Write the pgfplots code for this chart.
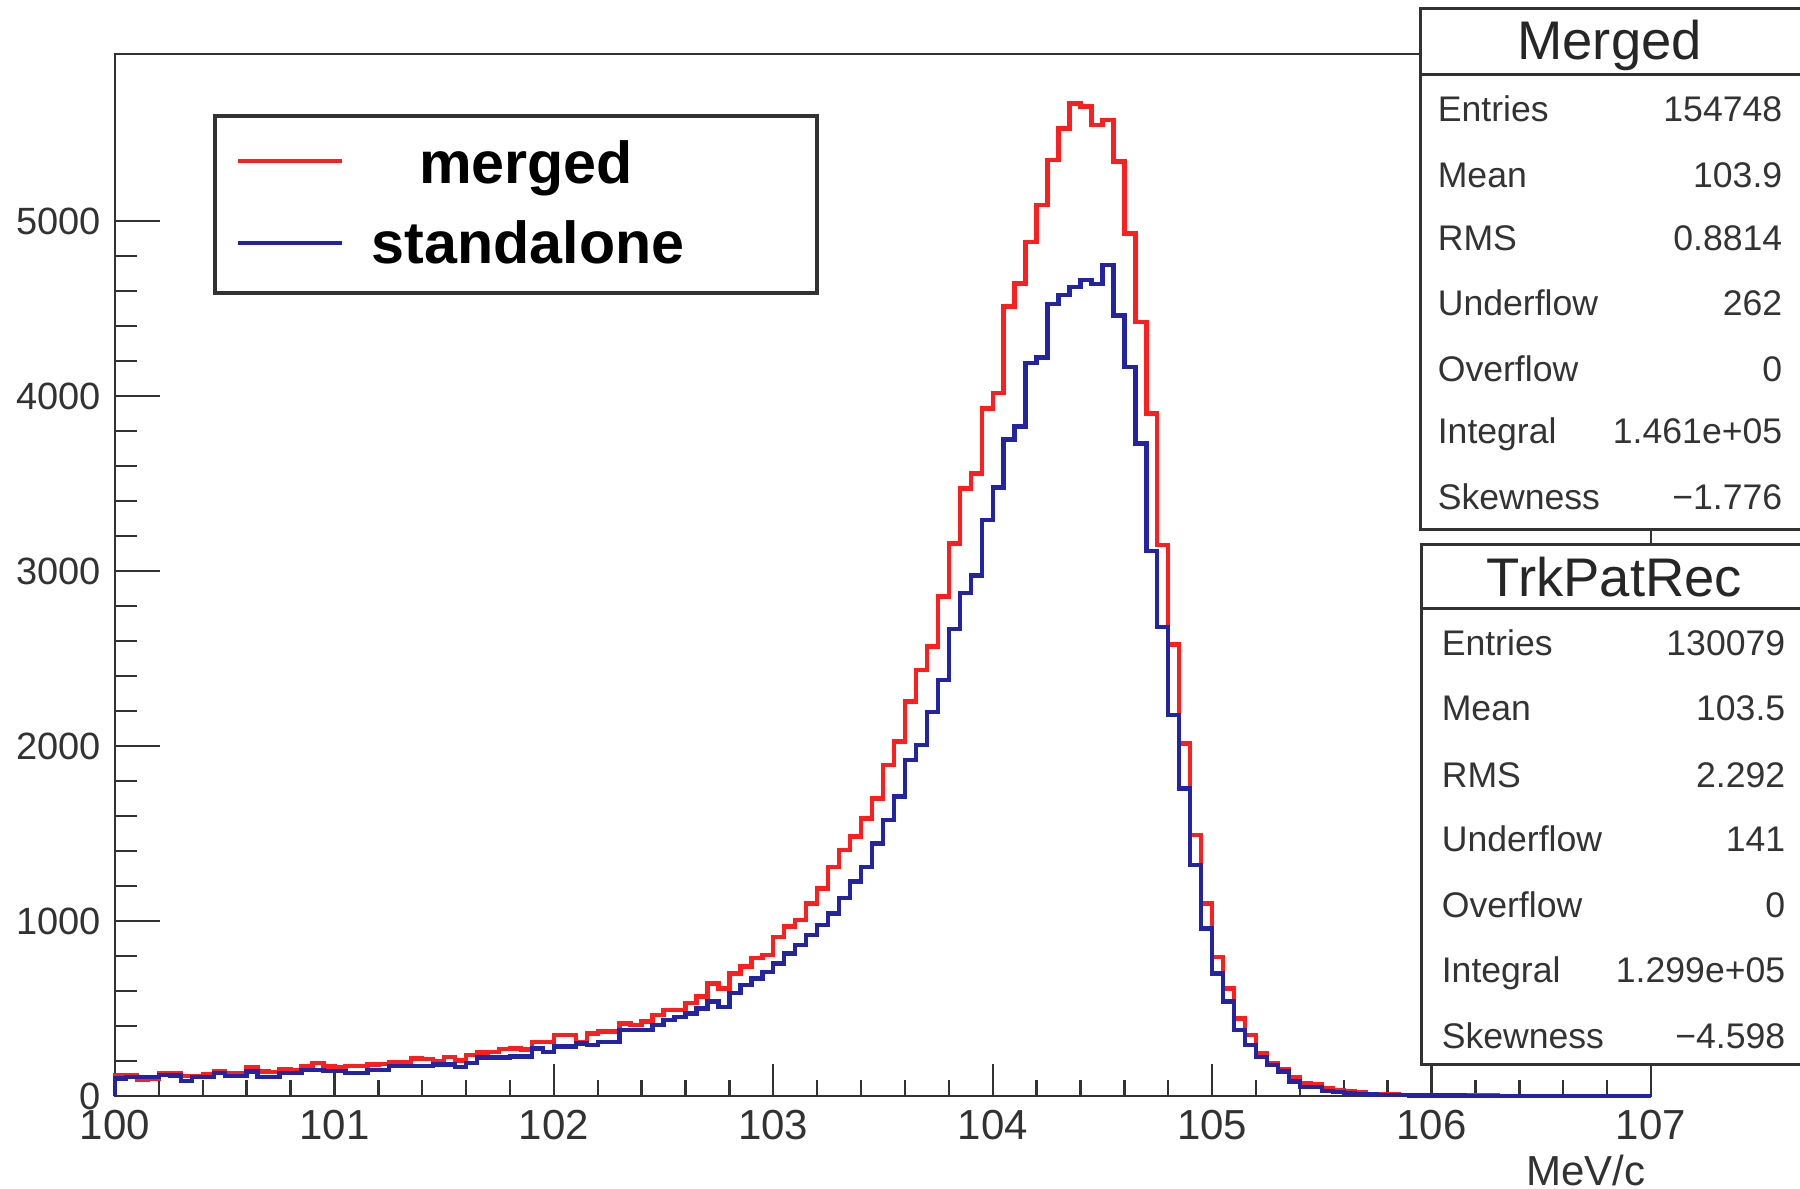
\documentclass[border=0pt]{standalone}
\usepackage{pgfplots}
\pgfplotsset{compat=1.18}
\usepackage{pgfplotstable}
\usepackage{fontspec}
\setmainfont{Liberation Sans}
\definecolor{hred}{RGB}{255,30,30}
\definecolor{hblue}{RGB}{35,35,165}
\definecolor{frame}{RGB}{50,50,50}

\pgfplotstableread{
x m s
100.00 0 0
100.00 120 100
100.05 120 109
100.10 95 109
100.15 98 109
100.20 133 120
100.25 130 118
100.30 114 86
100.35 112 110
100.40 124 110
100.45 139 133
100.50 130 114
100.55 128 114
100.60 166 139
100.65 139 109
100.70 137 109
100.75 152 133
100.80 150 133
100.85 171 147
100.90 190 147
100.95 168 143
101.00 166 143
101.05 171 130
101.10 173 130
101.15 181 147
101.20 183 147
101.25 196 171
101.30 194 171
101.35 215 171
101.40 213 171
101.45 200 181
101.50 223 181
101.55 204 166
101.60 234 190
101.65 248 219
101.70 250 219
101.75 267 219
101.80 272 225
101.85 265 225
101.90 310 272
101.95 310 253
102.00 348 282
102.05 348 282
102.10 310 301
102.15 358 291
102.20 368 310
102.25 368 310
102.30 415 377
102.35 406 377
102.40 425 377
102.45 463 406
102.50 491 434
102.55 491 453
102.60 530 472
102.65 568 501
102.70 644 539
102.75 615 510
102.80 701 587
102.85 739 634
102.90 787 672
102.95 806 710
103.00 910 758
103.05 968 815
103.10 1006 863
103.15 1101 920
103.20 1187 977
103.25 1310 1044
103.30 1406 1130
103.35 1482 1225
103.40 1587 1310
103.45 1701 1444
103.50 1892 1577
103.55 2025 1711
103.60 2254 1920
103.65 2435 2006
103.70 2568 2196
103.75 2854 2377
103.80 3158 2668
103.85 3473 2876
103.90 3558 2974
103.95 3930 3291
104.00 4016 3477
104.05 4511 3751
104.10 4644 3827
104.15 4882 4188
104.20 5092 4220
104.25 5349 4527
104.30 5530 4578
104.35 5673 4625
104.40 5654 4663
104.45 5549 4641
104.50 5578 4749
104.55 5340 4461
104.60 4930 4166
104.65 4425 3728
104.70 3901 3116
104.75 3149 2680
104.80 2580 2177
104.85 2015 1758
104.90 1492 1320
104.95 1101 958
105.00 796 701
105.05 615 539
105.10 444 377
105.15 349 291
105.20 244 222
105.25 187 177
105.30 155 139
105.35 105 82
105.40 72 52
105.45 68 50
105.50 45 30
105.55 35 24
105.60 26 17
105.65 19 12
105.70 13 9
105.75 10 6
105.80 8 5
105.85 6 4
105.90 5 3
105.95 4 3
106.00 4 2
106.05 3 2
106.10 3 2
106.15 2 1
106.20 2 1
106.25 2 1
106.30 1 1
106.35 1 1
106.40 1 0
106.45 1 0
106.50 1 0
106.55 0 0
106.60 1 0
106.65 0 0
106.70 0 0
106.75 0 0
106.80 0 0
106.85 0 0
106.90 0 0
106.95 0 0
107.00 0 0
}\histdata

\begin{document}
\begin{tikzpicture}
\useasboundingbox (0,0) rectangle (450pt,297.25pt);
\begin{axis}[
  at={(28.75pt,23.25pt)}, anchor=south west,
  scale only axis, width=384pt, height=260.5pt,
  xmin=100, xmax=107, ymin=0, ymax=5955,
  xtick={100,101,...,107}, ytick={0,1000,...,5000},
  minor x tick num=4, minor y tick num=4,
  tick pos=left, tick align=inside,
  axis line style={draw=frame, line width=0.7pt},
  every tick/.append style={draw=frame, line width=0.6pt},
  every x tick/.append style={/pgfplots/major tick length=8pt, /pgfplots/minor tick length=4pt},
  every y tick/.append style={/pgfplots/major tick length=11.25pt, /pgfplots/minor tick length=5.5pt},
  /pgf/number format/assume math mode=true,
  /pgf/number format/1000 sep={},
  xticklabel style={font=\fontsize{10.5}{12}\selectfont, text=frame},
  yticklabel style={font=\fontsize{9.5}{11}\selectfont, text=frame},
  xlabel={MeV/c},
  xlabel style={at={(rel axis cs:1,0)}, anchor=base east, inner sep=0pt,
    yshift=-22.5pt, xshift=-1.25pt, font=\fontsize{10.5}{12}\selectfont, text=frame},
  clip=false,
]
\addplot[const plot, hred, line width=1.1pt, mark=none] table[x=x, y=m] {\histdata};
\addplot[const plot, hblue, line width=1.1pt, mark=none] table[x=x, y=s] {\histdata};
\end{axis}

% legend
\draw[frame, line width=0.8pt, fill=white] (53.75pt,224pt) rectangle (204.25pt,268.25pt);
\draw[hred, line width=1pt] (59.5pt,257pt) -- (85.5pt,257pt);
\draw[hblue, line width=1pt] (59.5pt,236.5pt) -- (85.5pt,236.5pt);
\node[anchor=base, inner sep=0pt, font=\fontsize{14.8}{17}\selectfont\bfseries] at (131.5pt,251.3pt) {merged};
\node[anchor=base, inner sep=0pt, font=\fontsize{14.8}{17}\selectfont\bfseries] at (132pt,231.25pt) {standalone};

% Merged stat box
\draw[frame, line width=0.75pt, fill=white] (355pt,164.75pt) rectangle (470pt,295pt);
\draw[frame, line width=0.75pt] (355pt,278.5pt) -- (470pt,278.5pt);
\node[anchor=base, inner sep=0pt, font=\fontsize{13.6}{15}\selectfont, text=black!85] at (402.4pt,282.4pt) {Merged};
\begin{scope}[every node/.style={inner sep=0pt, font=\fontsize{8.9}{10}\selectfont, text=black!80}]
\node[anchor=base west] at (359.25pt,266.8pt) {Entries};
\node[anchor=base east] at (445.75pt,266.8pt) {154748};
\node[anchor=base west] at (359.25pt,250.4pt) {Mean};
\node[anchor=base east] at (445.75pt,250.4pt) {103.9};
\node[anchor=base west] at (359.25pt,234.55pt) {RMS};
\node[anchor=base east] at (445.75pt,234.55pt) {0.8814};
\node[anchor=base west] at (359.25pt,218.3pt) {Underflow};
\node[anchor=base east] at (445.75pt,218.3pt) {262};
\node[anchor=base west] at (359.25pt,201.9pt) {Overflow};
\node[anchor=base east] at (445.75pt,201.9pt) {0};
\node[anchor=base west] at (359.25pt,186.4pt) {Integral};
\node[anchor=base east] at (445.75pt,186.4pt) {1.461e+05};
\node[anchor=base west] at (359.25pt,169.8pt) {Skewness};
\node[anchor=base east] at (445.75pt,169.8pt) {−1.776};
\end{scope}

% TrkPatRec stat box
\draw[frame, line width=0.75pt, fill=white] (355.25pt,31pt) rectangle (470pt,161pt);
\draw[frame, line width=0.75pt] (355.25pt,145.1pt) -- (470pt,145.1pt);
\node[anchor=base, inner sep=0pt, font=\fontsize{13.6}{15}\selectfont, text=black!85] at (403.6pt,148.05pt) {TrkPatRec};
\begin{scope}[every node/.style={inner sep=0pt, font=\fontsize{8.9}{10}\selectfont, text=black!80}]
\node[anchor=base west] at (360.25pt,133.3pt) {Entries};
\node[anchor=base east] at (446.5pt,133.3pt) {130079};
\node[anchor=base west] at (360.25pt,117.05pt) {Mean};
\node[anchor=base east] at (446.5pt,117.05pt) {103.5};
\node[anchor=base west] at (360.25pt,100.3pt) {RMS};
\node[anchor=base east] at (446.5pt,100.3pt) {2.292};
\node[anchor=base west] at (360.25pt,84.3pt) {Underflow};
\node[anchor=base east] at (446.5pt,84.3pt) {141};
\node[anchor=base west] at (360.25pt,67.9pt) {Overflow};
\node[anchor=base east] at (446.5pt,67.9pt) {0};
\node[anchor=base west] at (360.25pt,51.55pt) {Integral};
\node[anchor=base east] at (446.5pt,51.55pt) {1.299e+05};
\node[anchor=base west] at (360.25pt,35.2pt) {Skewness};
\node[anchor=base east] at (446.5pt,35.2pt) {−4.598};
\end{scope}
\end{tikzpicture}
\end{document}
